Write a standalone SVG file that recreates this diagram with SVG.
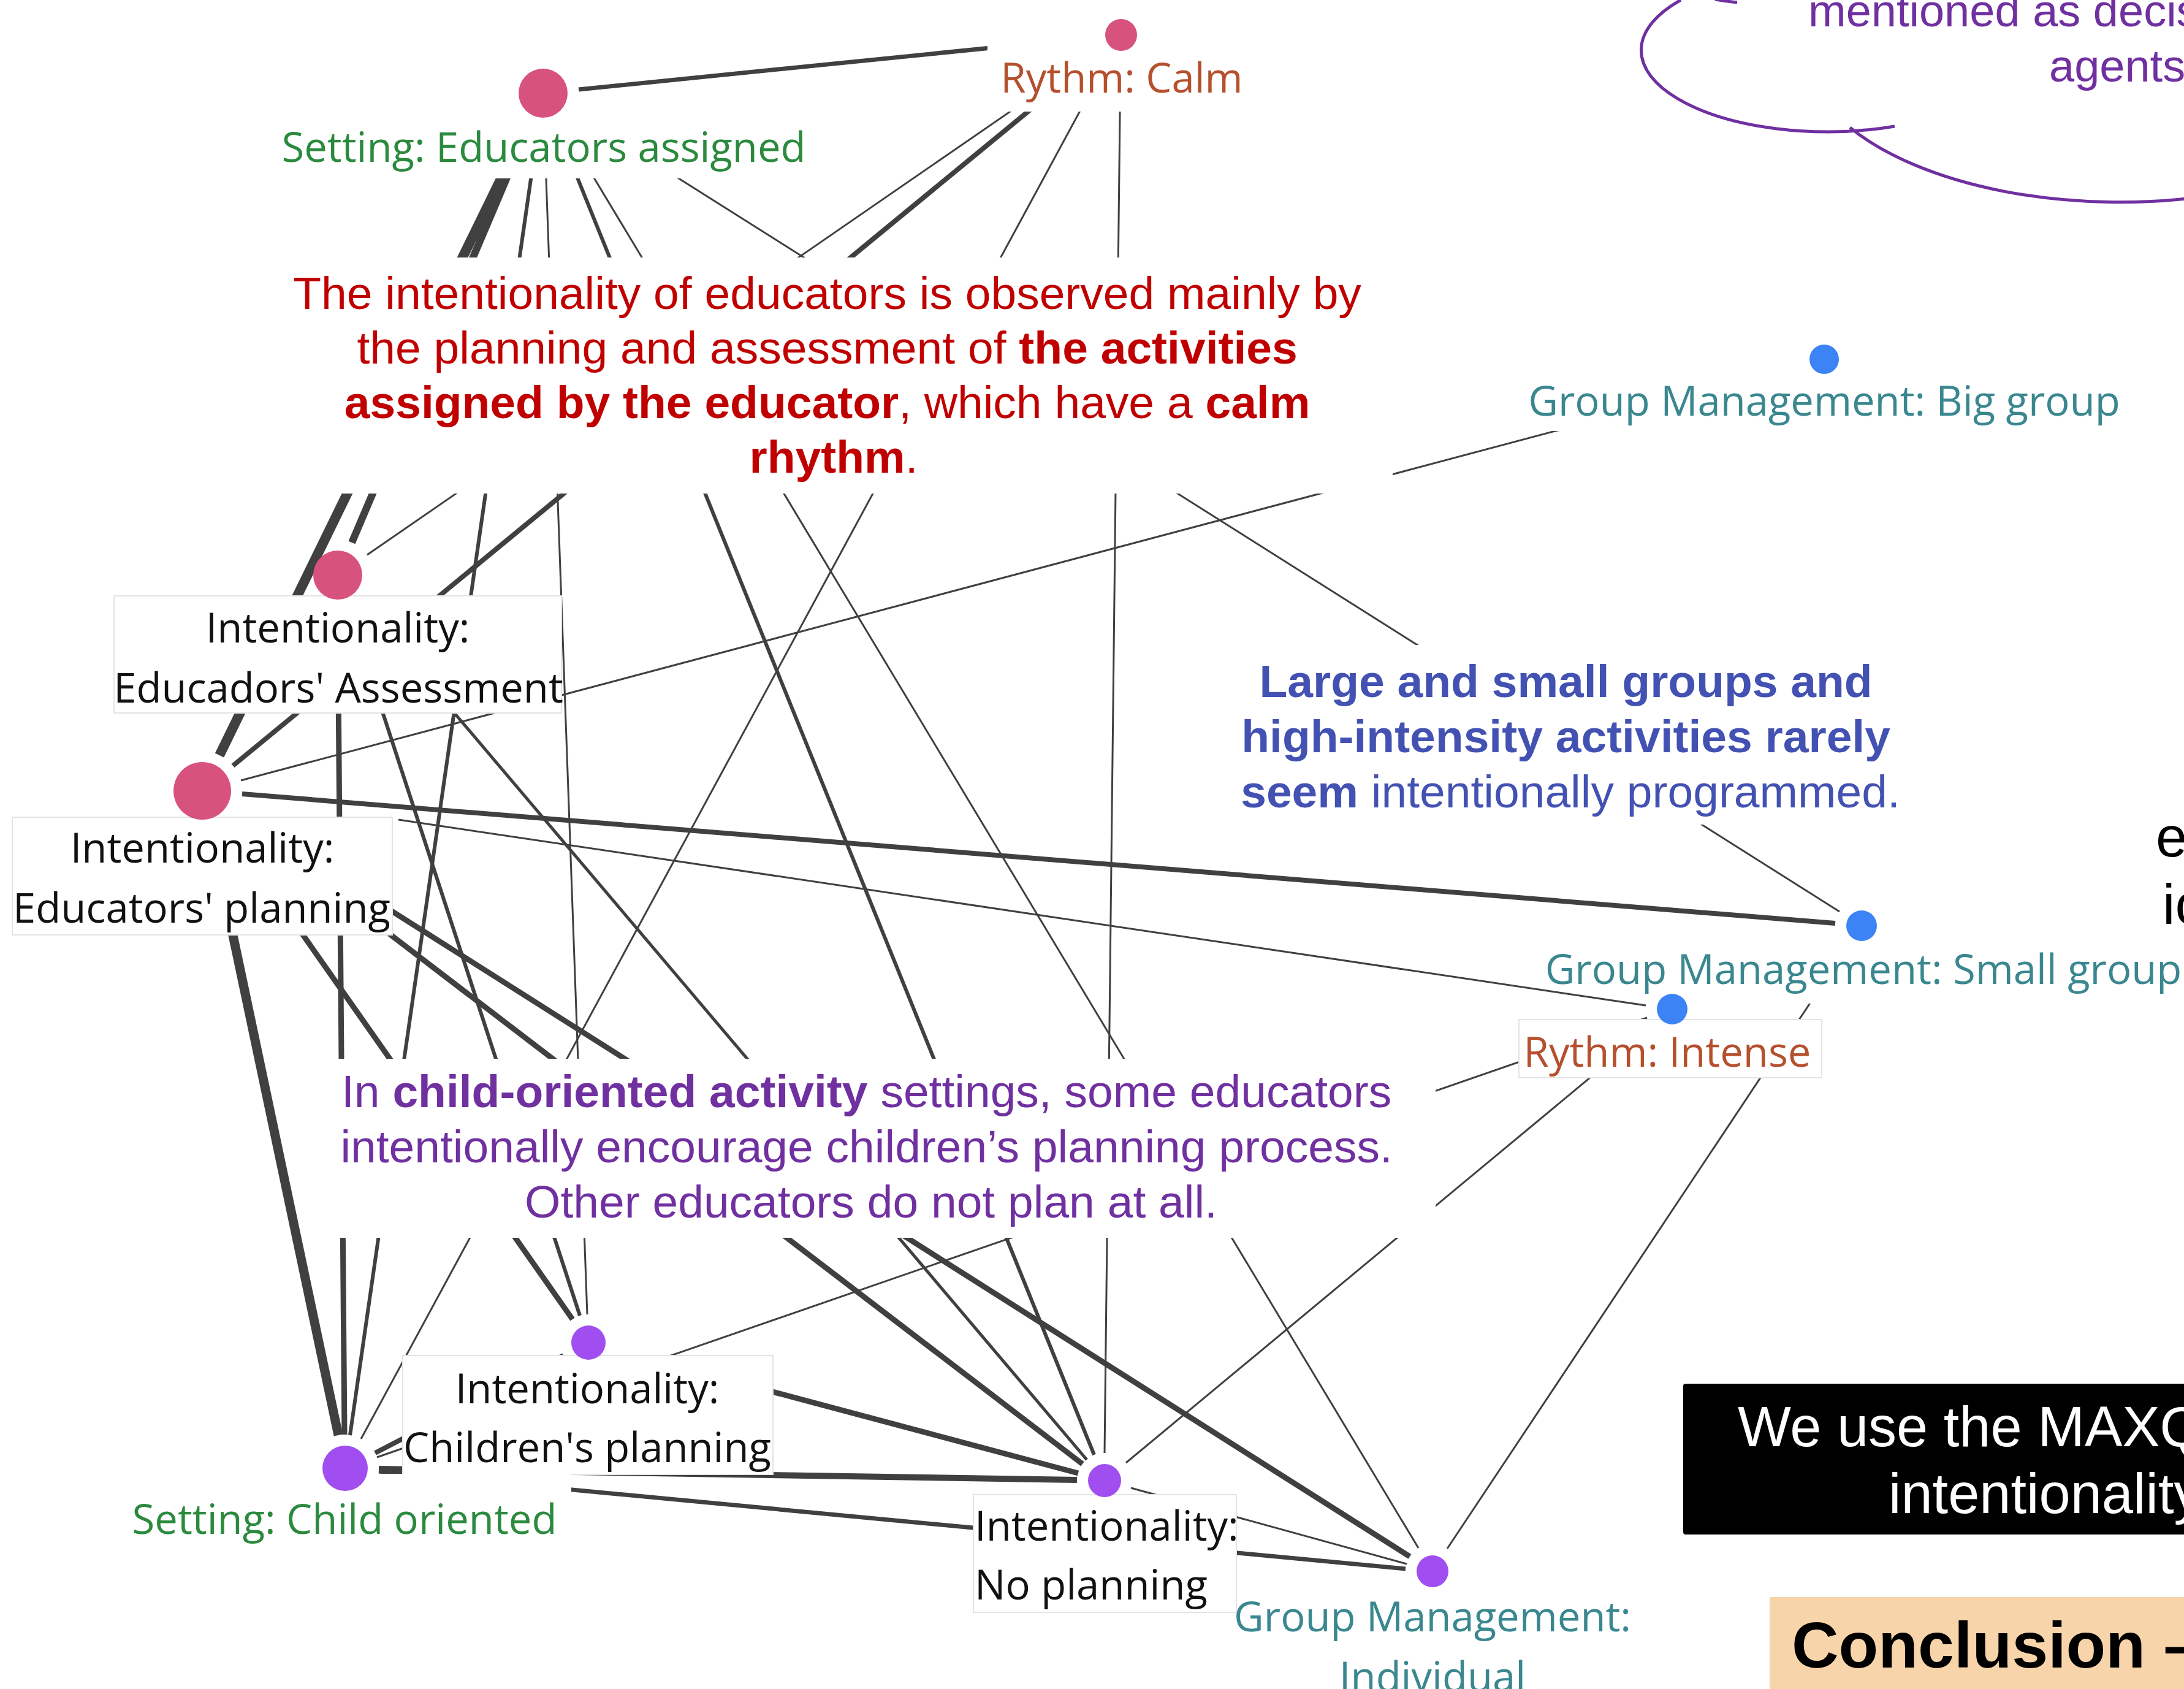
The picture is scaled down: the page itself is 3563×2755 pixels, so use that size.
<svg xmlns="http://www.w3.org/2000/svg" width="3563" height="2755" viewBox="0 0 3563 2755">
<style>
.e{stroke:#404040;stroke-linecap:butt;fill:none}
.bx{fill:#fff}
.bxb{fill:#fff;stroke:#e4e4e4;stroke-width:2}
.lb{font-family:"Open Sans","Noto Sans",sans-serif;font-size:67px}
.mid{text-anchor:middle}
.k{fill:#111}
.grn{fill:#2b8a3e}
.rth{fill:#b5502e}
.gm{fill:#3a878f}
.pk{fill:#d8527e}
.bl{fill:#3c83f6}
.pu{fill:#a04ef0}
.an{font-family:"Liberation Sans",Arial,sans-serif;font-size:75px;text-anchor:middle}
.b{font-weight:bold}
.cl{fill:none;stroke:#7030a0;stroke-width:5}
</style>
<rect width="3563" height="2755" fill="#fff"/>

<g id="connectors">
<line class="e" stroke-width="7" x1="944" y1="146" x2="1785" y2="61"/>
<line class="e" stroke-width="12" x1="863" y1="205" x2="574" y2="885"/>
<line class="e" stroke-width="16" x1="860" y1="204" x2="358" y2="1232"/>
<line class="e" stroke-width="3" x1="971" y1="205" x2="3001" y2="1487"/>
<line class="e" stroke-width="3" x1="888" y1="210" x2="958" y2="2144"/>
<line class="e" stroke-width="6" x1="878" y1="209" x2="571" y2="2341"/>
<line class="e" stroke-width="6" x1="908" y1="206" x2="1785" y2="2373"/>
<line class="e" stroke-width="3" x1="916" y1="202" x2="2314" y2="2525"/>
<line class="e" stroke-width="3" x1="1793" y1="82" x2="599" y2="905"/>
<line class="e" stroke-width="8" x1="1795" y1="85" x2="380" y2="1249"/>
<line class="e" stroke-width="3" x1="1808" y1="96" x2="589" y2="2347"/>
<line class="e" stroke-width="3" x1="1828" y1="101" x2="1802" y2="2370"/>
<line class="e" stroke-width="3" x1="2831" y1="625" x2="393" y2="1273"/>
<line class="e" stroke-width="6" x1="569" y1="993" x2="946" y2="2146"/>
<line class="e" stroke-width="9" x1="551" y1="996" x2="562" y2="2340"/>
<line class="e" stroke-width="5" x1="588" y1="982" x2="1773" y2="2381"/>
<line class="e" stroke-width="8" x1="395" y1="1295" x2="2994" y2="1506"/>
<line class="e" stroke-width="3" x1="650" y1="1337" x2="2685" y2="1640"/>
<line class="e" stroke-width="9" x1="387" y1="1372" x2="934" y2="2152"/>
<line class="e" stroke-width="15" x1="351" y1="1388" x2="552" y2="2341"/>
<line class="e" stroke-width="9" x1="410" y1="1351" x2="1766" y2="2388"/>
<line class="e" stroke-width="9" x1="415" y1="1344" x2="2300" y2="2539"/>
<line class="e" stroke-width="3" x1="3013" y1="1546" x2="2361" y2="2526"/>
<line class="e" stroke-width="3" x1="2687" y1="1660" x2="615" y2="2377"/>
<line class="e" stroke-width="3" x1="2695" y1="1674" x2="1837" y2="2386"/>
<line class="e" stroke-width="8" x1="919" y1="2211" x2="612" y2="2370"/>
<line class="e" stroke-width="9" x1="1076" y1="2221" x2="1759" y2="2403"/>
<line class="e" stroke-width="10" x1="618" y1="2396" x2="1757" y2="2414"/>
<line class="e" stroke-width="7" x1="618" y1="2400" x2="2293" y2="2559"/>
<line class="e" stroke-width="3" x1="1845" y1="2427" x2="2295" y2="2551"/>
</g>

<g id="annotation-educators">
<rect class="bx" x="428" y="420" width="1844" height="385"/>
<text class="an" fill="#c00000">
<tspan x="1360" y="504">The intentionality of educators is observed mainly by</tspan>
<tspan x="1360" y="593">the planning and assessment of <tspan class="b">the activities</tspan></tspan>
<tspan x="1360" y="682"><tspan class="b">assigned by the educator</tspan>, which have a <tspan class="b">calm</tspan></tspan>
<tspan x="1360" y="771"><tspan class="b">rhythm</tspan>.</tspan>
</text>
</g>

<g id="annotation-groups">
<rect class="bx" x="1990" y="1052" width="1130" height="293"/>
<text class="an" fill="#4352b2">
<tspan x="2565" y="1137" class="b">Large and small groups and</tspan>
<tspan x="2565" y="1227" class="b">high-intensity activities rarely</tspan>
<tspan x="2562" y="1317"><tspan class="b">seem</tspan> intentionally programmed.</tspan>
</text>
</g>

<g id="annotation-child">
<rect class="bx" x="492" y="1727" width="1850" height="292"/>
<text class="an" fill="#7030a0">
<tspan x="1424" y="1806">In <tspan class="b">child-oriented activity</tspan> settings, some educators</tspan>
<tspan x="1424" y="1896">intentionally encourage children’s planning process.</tspan>
<tspan x="1421" y="1986">Other educators do not plan at all.</tspan>
</text>
</g>

<g id="n-setting-educators-assigned">
<rect class="bx" x="445" y="195" width="880" height="96"/>
<circle class="pk" cx="886" cy="152" r="40"/>
<text class="lb mid grn" x="887" y="264">Setting: Educators assigned</text>
</g>

<g id="n-rythm-calm">
<rect class="bx" x="1611" y="55" width="434" height="127"/>
<circle class="pk" cx="1829" cy="57" r="26"/>
<text class="lb mid rth" x="1830" y="151">Rythm: Calm</text>
</g>

<g id="n-gm-big-group">
<rect class="bx" x="2470" y="612" width="1010" height="91"/>
<circle class="bl" cx="2976" cy="586" r="24"/>
<text class="lb mid gm" x="2976" y="678">Group Management: Big group</text>
</g>

<g id="n-int-assessment">
<rect class="bxb" x="186" y="972" width="730" height="191"/>
<circle class="pk" cx="551" cy="938" r="40"/>
<text class="lb mid k"><tspan x="551" y="1048">Intentionality:</tspan><tspan x="552" y="1146">Educadors' Assessment</tspan></text>
</g>

<g id="n-int-planning">
<rect class="bxb" x="20" y="1333" width="620" height="192"/>
<circle class="pk" cx="330" cy="1290" r="47"/>
<text class="lb mid k"><tspan x="330" y="1407">Intentionality:</tspan><tspan x="329" y="1505">Educators' planning</tspan></text>
</g>

<g id="n-gm-small-group">
<rect class="bx" x="2700" y="1540" width="900" height="97"/>
<circle class="bl" cx="3037" cy="1510" r="25"/>
<text class="lb mid gm" x="3040" y="1605">Group Management: Small group</text>
</g>

<g id="n-rythm-intense">
<rect class="bxb" x="2478" y="1663" width="494" height="95"/>
<circle class="bl" cx="2728" cy="1646" r="25"/>
<text class="lb mid rth" x="2720" y="1740">Rythm: Intense</text>
</g>

<g id="n-int-children-planning">
<rect class="bxb" x="657" y="2211" width="604" height="194"/>
<circle class="pu" cx="960" cy="2190" r="28"/>
<text class="lb mid k"><tspan x="958" y="2289">Intentionality:</tspan><tspan x="958" y="2385">Children's planning</tspan></text>
</g>

<g id="n-setting-child-oriented">
<rect class="bx" x="200" y="2404" width="732" height="121"/>
<circle class="pu" cx="563" cy="2395" r="37"/>
<text class="lb mid grn" x="562" y="2502">Setting: Child oriented</text>
</g>

<g id="n-int-no-planning">
<rect class="bxb" x="1588" y="2438" width="429" height="192"/>
<circle class="pu" cx="1802" cy="2415" r="27"/>
<text class="lb k"><tspan x="1590" y="2513">Intentionality:</tspan><tspan x="1590" y="2609">No planning</tspan></text>
</g>

<g id="n-gm-individual">
<circle class="pu" cx="2337" cy="2563" r="26"/>
<text class="lb mid gm"><tspan x="2337" y="2661">Group Management:</tspan><tspan x="2337" y="2759">Individual</tspan></text>
</g>

<g id="cloud">
<path class="cl" d="M 2742 0 A 304 133 0 0 0 3091 206"/>
<path class="cl" d="M 3018 208 A 515 253 0 0 0 3600 320"/>
<path class="cl" d="M 2798 -1 Q 2815 2 2834 4"/>
<text font-family="Liberation Sans, Arial, sans-serif" font-size="74" fill="#7030a0"><tspan x="2950" y="43">mentioned as decis</tspan><tspan x="3343" y="133">agents</tspan></text>
</g>

<g id="side-text">
<text font-family="Liberation Sans, Arial, sans-serif" font-size="92" fill="#000"><tspan x="3517" y="1397">e</tspan><tspan x="3528" y="1507">ic</tspan></text>
</g>

<g id="maxqda-box">
<rect x="2746" y="2257" width="900" height="246" rx="4" fill="#000"/>
<text font-family="Liberation Sans, Arial, sans-serif" font-size="92" fill="#fff"><tspan x="2835" y="2359">We use the MAXQ</tspan><tspan x="3081" y="2468">intentionality</tspan></text>
</g>

<g id="conclusion-box">
<rect x="2887" y="2605" width="700" height="170" fill="#f8d4aa"/>
<text font-family="Liberation Sans, Arial, sans-serif" font-size="106" font-weight="bold" fill="#000" x="2923" y="2720">Conclusion –</text>
</g>
</svg>
